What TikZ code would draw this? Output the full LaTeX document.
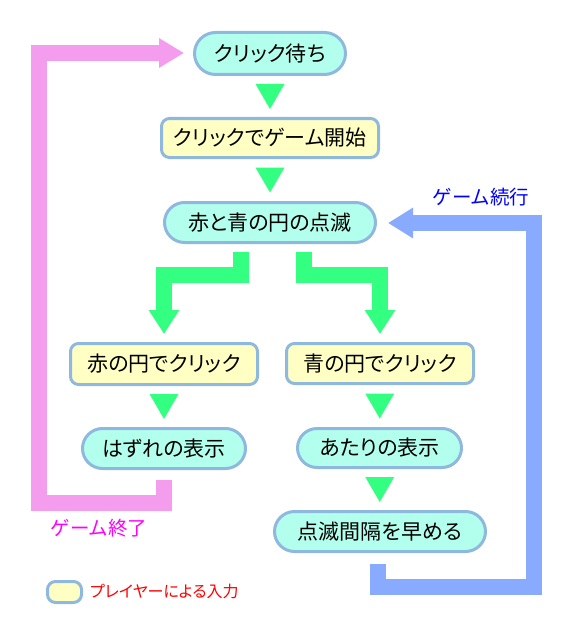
\documentclass[tikz,border=0pt]{standalone}
\usepackage{fontspec}
\setmainfont{Noto Sans CJK JP}[RawFeature=+palt]
\newfontfamily\notefont{Noto Sans CJK JP}
\usetikzlibrary{arrows.meta,calc}
\definecolor{cyanfill}{HTML}{B3FFEE}
\definecolor{boxborder}{HTML}{8FB8DE}
\definecolor{yellowfill}{HTML}{FFFFC4}
\definecolor{flowgreen}{HTML}{33FF80}
\definecolor{loopink}{HTML}{F49CEE}
\definecolor{loopblue}{HTML}{88AAFF}
\definecolor{endmagenta}{HTML}{FF00FF}
\definecolor{contblue}{HTML}{0000FF}
\definecolor{legendred}{HTML}{FF0000}
\begin{document}
\begin{tikzpicture}[x=1pt,y=-1pt,
  basebox/.style={draw=boxborder,line width=3pt,inner sep=0pt,font=\fontsize{21}{25}\selectfont,text=black},
  pill/.style={basebox,fill=cyanfill,minimum width=#1,minimum height=40pt,rounded corners=20pt},
  inbox/.style={basebox,fill=yellowfill,minimum width=#1,minimum height=40pt,rounded corners=8pt},
  tri/.style={fill=flowgreen},
  fork/.style={draw=flowgreen,line width=16pt,line join=miter,-{Triangle[width=29pt,length=24pt]}},
  pinkloop/.style={draw=loopink,line width=16pt,line join=miter,-{Triangle[width=28pt,length=25pt]}},
  blueloop/.style={draw=loopblue,line width=16pt,line join=miter,-{Triangle[width=29pt,length=25pt]}},
  note/.style={font=\notefont\fontsize{19.5}{23}\selectfont,inner sep=0pt},
  legendnote/.style={font=\fontsize{16}{19}\selectfont,inner sep=0pt}
]
\useasboundingbox (0,0) rectangle (569,623);

\node[pill=151pt,minimum height=42pt,rounded corners=21pt] (n1) at (270,53.5) {クリック待ち};
\node[inbox=217pt,minimum height=39pt] (n2) at (270,138) {クリックでゲーム開始};
\node[pill=211pt] (n3) at (270,222.5) {赤と青の円の点滅};
\node[inbox=187pt,minimum height=41pt] (n4) at (164,364) {赤の円でクリック};
\node[inbox=187pt] (n5) at (380,363.5) {青の円でクリック};
\node[pill=163pt] (n6) at (164,448.5) {はずれの表示};
\node[pill=164pt,minimum height=39pt,rounded corners=19.5pt] (n7) at (379.5,448) {あたりの表示};
\node[pill=211pt] (n8) at (380,531.5) {点滅間隔を早める};

% green triangles
\foreach \a/\b in {n1/n2,n2/n3,n4/n6,n5/n7,n7/n8}{
  \fill[tri] ($(\a.south)!0.5!(\b.north)$) ++(-14.5,-12.5) -- ++(29,0) -- ++(-14.5,25) -- cycle;
}

% fork
\draw[fork] ($(n3.south)+(-29,8)$) -- ++(0,22.7) -| ($(n4.north)+(0,-8)$);
\draw[fork] ($(n3.south)+(34,8)$) -- ++(0,22.7) -| ($(n5.north)+(0,-8)$);

% loops
\coordinate (pinkL) at (38.5,503);
\draw[pinkloop] ($(n6.south)+(0,10)$) |- (pinkL) |- ($(n1.west)+(-9,-0.5)$);
\coordinate (blueR) at (534,587);
\draw[blueloop] ($(n8.south)+(-2.5,11)$) |- (blueR) |- ($(n3.east)+(11,0.5)$);

\node[note,text=endmagenta] (endlbl) at (99,528.5) {ゲーム終了};
\node[note,text=contblue] (contlbl) at (481,197) {ゲーム続行};

% legend
\node[draw=boxborder,line width=3pt,fill=yellowfill,minimum width=34pt,minimum height=21pt,rounded corners=8pt,inner sep=0pt] (lgbox) at (64.5,592) {};
\node[legendnote,text=legendred,anchor=west] (lgtext) at (90,591.5) {プレイヤーによる入力};
\end{tikzpicture}
\end{document}
